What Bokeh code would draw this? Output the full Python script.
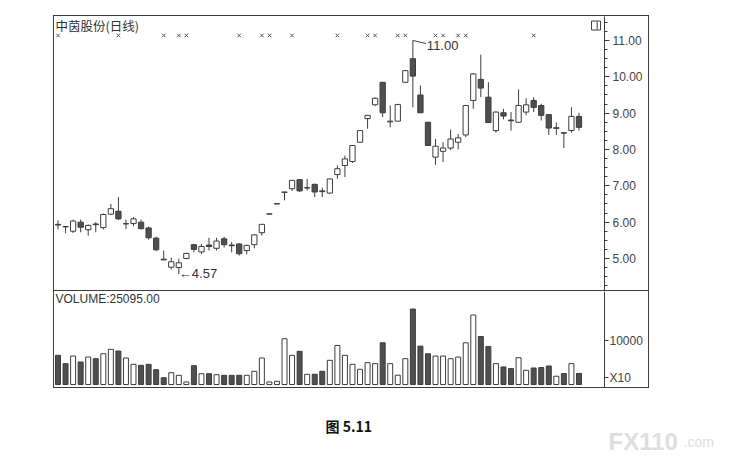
from bokeh.plotting import figure
from bokeh.models import (ColumnDataSource, Range1d, FixedTicker, NumeralTickFormatter,
                          Label, Spacer)
from bokeh.layouts import column, row
from bokeh.embed import file_html
from bokeh.resources import INLINE
from bokeh.core.properties import value

# ---------------- data ----------------
stock_title = "中茵股份(日线)"
opens  = [5.94, 5.88, 5.75, 6.00, 5.79, 5.95, 5.85, 6.22, 6.30, 5.95,
          5.96, 6.00, 5.84, 5.56, 4.98, 4.76, 4.75, 5.00, 5.38, 5.18,
          5.37, 5.28, 5.54, 5.37, 5.40, 5.22, 5.38, 5.71, 6.22, 6.50,
          6.82, 6.92, 7.17, 6.94, 7.04, 6.86, 6.80, 7.31, 7.56, 7.67,
          8.20, 8.85, 9.23, 9.85, 8.76, 8.78, 9.85, 10.50, 9.50, 8.75,
          7.79, 7.95, 8.04, 8.20, 8.40, 9.35, 9.93, 9.44, 8.52, 9.01,
          8.81, 8.75, 9.03, 9.35, 9.21, 8.96, 8.58, 8.46, 8.52, 8.91]
highs  = [6.05, 5.89, 6.07, 6.07, 5.94, 6.00, 6.24, 6.50, 6.69, 6.07,
          6.14, 6.07, 5.88, 5.60, 5.22, 5.02, 4.99, 5.16, 5.40, 5.40,
          5.57, 5.57, 5.60, 5.45, 5.42, 5.38, 5.67, 5.95, 6.23, 6.51,
          6.83, 7.16, 7.18, 7.19, 7.06, 6.95, 7.20, 7.56, 7.83, 8.12,
          8.53, 8.95, 9.43, 9.86, 9.21, 9.25, 10.18, 11.00, 9.76, 8.76,
          8.29, 8.20, 8.55, 8.43, 9.22, 10.10, 10.61, 9.85, 9.05, 9.12,
          9.03, 9.65, 9.41, 9.44, 9.26, 8.98, 8.74, 8.46, 9.16, 9.01]
lows   = [5.80, 5.70, 5.70, 5.72, 5.63, 5.72, 5.80, 6.20, 6.06, 5.81,
          5.89, 5.80, 5.52, 5.20, 4.96, 4.70, 4.57, 4.98, 5.17, 5.12,
          5.22, 5.22, 5.30, 5.17, 5.08, 5.11, 5.28, 5.63, 6.22, 6.50,
          6.60, 6.86, 6.83, 6.87, 6.69, 6.69, 6.78, 7.19, 7.24, 7.63,
          8.18, 8.57, 9.20, 8.89, 8.61, 8.77, 9.84, 9.16, 9.00, 8.10,
          7.58, 7.65, 7.98, 8.00, 8.34, 9.12, 9.44, 8.73, 8.46, 8.83,
          8.52, 8.74, 8.94, 9.03, 8.80, 8.40, 8.40, 8.04, 8.46, 8.52]
closes = [5.92, 5.87, 6.03, 5.86, 5.91, 5.93, 6.21, 6.37, 6.09, 5.96,
          6.09, 5.82, 5.57, 5.24, 4.96, 4.91, 4.88, 5.14, 5.25, 5.33,
          5.33, 5.48, 5.38, 5.35, 5.13, 5.36, 5.65, 5.94, 6.23, 6.51,
          6.83, 7.15, 6.86, 6.95, 6.83, 6.84, 7.19, 7.47, 7.74, 8.11,
          8.52, 8.94, 9.41, 9.01, 8.78, 9.24, 10.17, 10.02, 9.01, 8.11,
          8.09, 8.04, 8.29, 8.32, 9.21, 10.08, 9.69, 8.74, 9.03, 8.92,
          8.79, 9.21, 9.23, 9.16, 8.94, 8.59, 8.60, 8.45, 8.91, 8.61]
volumes = [66300, 47200, 64700, 51100, 62400, 58600, 69900, 79900, 76000, 60200,
           45900, 43600, 45900, 33600, 15400, 26800, 20900, 5700, 42700, 24500,
           24500, 22200, 20900, 20900, 20900, 20900, 30000, 60200, 5700, 7300,
           104000, 66300, 75400, 23200, 23200, 30000, 55000, 88700, 66200, 45900,
           34600, 49600, 47400, 94800, 47400, 21100, 58700, 171500, 87200, 69900,
           64700, 64700, 58700, 62400, 94800, 157900, 109000, 86500, 47400, 39900,
           36100, 60900, 32300, 37600, 38400, 42100, 18800, 24800, 47400, 25095]
marker_days = [0, 8, 14, 16, 17, 24, 27, 28, 31, 37, 41, 42, 45, 46, 50, 51, 53, 54, 63]
price_ticks = [5, 6, 7, 8, 9, 10, 11]
volume_ticks = [10000]
volume_factor = 10
caption_text = "图 5.11"
watermark_main = "FX110"
watermark_tail = ".com"

# ---------------- geometry / styles ----------------
FRAME_W = 550          # plotting frame width
AXIS_W = 46            # right axis strip (last 2px sit under the CSS border)
PRICE_H = 276          # canvas height of the price panel
VOL_H = 97             # canvas height of the volume panel
INK = "#3d3d3d"
DARK = "#4f4f4f"
FONT = "Liberation Sans"

n = len(opens)
days = list(range(n))
up = [c >= o for o, c in zip(opens, closes)]
src = ColumnDataSource(dict(
    x=days, o=opens, h=highs, l=lows, c=closes,
    top=[max(o, c) for o, c in zip(opens, closes)],
    bot=[min(o, c) for o, c in zip(opens, closes)],
    fill=["white" if u else DARK for u in up],
    vol=[v / volume_factor for v in volumes],
))

x_start, x_end = -0.464, 72.38
xr = Range1d(x_start, x_end)

price_ppu = 36.33
y_hi = 11 + 24 / price_ppu
y_lo = y_hi - PRICE_H / price_ppu

p = figure(width=FRAME_W + AXIS_W, height=PRICE_H, x_range=xr,
           y_range=Range1d(y_lo, y_hi),
           y_axis_location="right", x_axis_location=None, toolbar_location=None,
           output_backend="svg", min_border_left=0, min_border_right=AXIS_W,
           min_border_top=0, min_border_bottom=0)
p.styles = {"border": "1px solid " + INK}
p.grid.visible = False
p.outline_line_color = None
p.background_fill_color = "white"
p.border_fill_color = "white"


def style_axis(a):
    a.axis_line_color = INK
    a.major_tick_line_color = INK
    a.minor_tick_line_color = INK
    a.major_tick_in = 0
    a.minor_tick_in = 0
    a.major_label_text_font = FONT
    a.major_label_text_font_size = "12px"
    a.major_label_text_color = "#444444"


ax = p.yaxis[0]
ax.ticker = FixedTicker(ticks=price_ticks, minor_ticks=[4.25 + 0.25 * k for k in range(30)])
ax.formatter = NumeralTickFormatter(format="0.00")
style_axis(ax)
ax.major_tick_out = 5
ax.minor_tick_out = 3
ax.major_label_standoff = 3

# candles
p.segment(x0="x", y0="h", x1="x", y1="l", source=src, line_color=INK, line_width=1)
p.vbar(x="x", top="top", bottom="bot", width=0.7, source=src, fill_color="fill",
       line_color=INK, line_width=1)

# event markers row
marker_y = y_hi - 19 / price_ppu
p.scatter(x=marker_days, y=[marker_y] * len(marker_days), marker="x", size=5,
          line_color="#555555", line_width=1)

# high / low annotations
i_hi = max(days, key=lambda i: highs[i])
i_lo = min(days, key=lambda i: lows[i])
p.segment(x0=[i_hi], y0=[highs[i_hi]], x1=[i_hi + 1.75], y1=[highs[i_hi] - 3 / price_ppu],
          line_color=INK, line_width=1)
p.text(x=[i_hi], y=[highs[i_hi]], text=["%.2f" % highs[i_hi]], x_offset=14, y_offset=5,
       text_font=value(FONT), text_font_size="13px", text_color="#333333",
       text_baseline="middle", text_align="left")
p.text(x=[i_lo], y=[lows[i_lo]], text=["←%.2f" % lows[i_lo]], x_offset=0, y_offset=-1,
       text_font=value(FONT), text_font_size="13px", text_color="#333333",
       text_baseline="middle", text_align="left")

# title
p.add_layout(Label(x=x_start, y=y_hi, text=stock_title, x_offset=1, y_offset=1,
                   text_baseline="top", text_font="Noto Sans CJK SC",
                   text_font_size="12.5px", text_color="#333333"))
# icon box
icon_x = 71.26
p.rect(x=[icon_x], y=[y_hi - 9 / price_ppu], width=9, height=9, width_units="screen",
       height_units="screen", fill_color="white", line_color=INK)
p.segment(x0=[icon_x + 0.15], y0=[y_hi - 5 / price_ppu], x1=[icon_x + 0.15],
          y1=[y_hi - 13 / price_ppu], line_color=INK)

# ---------------- volume ----------------
v_ppu = 44 / 10000
v_lo = -4 / v_ppu
v_hi = v_lo + VOL_H / v_ppu
x10_level = 7 / v_ppu
pv = figure(width=FRAME_W + AXIS_W, height=VOL_H, x_range=xr,
            y_range=Range1d(v_lo, v_hi),
            y_axis_location="right", x_axis_location=None, toolbar_location=None,
            output_backend="svg", min_border_left=0, min_border_right=AXIS_W,
            min_border_top=0, min_border_bottom=0)
pv.styles = {"border-left": "1px solid " + INK, "border-right": "1px solid " + INK,
             "border-bottom": "1px solid " + INK}
pv.grid.visible = False
pv.outline_line_color = None
vax = pv.yaxis[0]
vax.ticker = FixedTicker(ticks=[x10_level] + volume_ticks, minor_ticks=[])
vax.formatter = NumeralTickFormatter(format="0")
vax.major_label_overrides = {x10_level: "X%d" % volume_factor}
style_axis(vax)
vax.major_tick_out = 4
vax.major_label_standoff = 1

pv.vbar(x="x", top="vol", bottom=0, width=0.66, source=src, fill_color="fill",
        line_color=INK, line_width=1)
pv.add_layout(Label(x=x_start, y=v_hi, text="VOLUME:%.2f" % volumes[-1], x_offset=1,
                    text_baseline="top", text_font=FONT, text_font_size="12px",
                    text_color="#333333"))

# ---------------- caption ----------------
CAP_W, CAP_H = 723, 64
cap = figure(width=CAP_W, height=CAP_H, x_range=Range1d(0, CAP_W), y_range=Range1d(CAP_H, 0),
             x_axis_location=None, y_axis_location=None, toolbar_location=None,
             output_backend="svg", min_border=0)
cap.grid.visible = False
cap.outline_line_color = None
cap.text(x=[325], y=[37], text=[caption_text], text_font=value("Noto Sans CJK SC"),
         text_font_style="bold", text_font_size="14px", text_color="#111111",
         text_baseline="middle", text_align="left")
cap.text(x=[608], y=[53], text=[watermark_main], text_font=value(FONT), text_font_style="bold",
         text_font_size="24px", text_color="#dedede", text_baseline="alphabetic", text_align="left")
cap.text(x=[683], y=[53], text=[watermark_tail], text_font=value(FONT),
         text_font_size="14px", text_color="#dedede", text_baseline="alphabetic", text_align="left")

charts = column(p, pv, spacing=0)
layout = column(Spacer(width=10, height=15),
                row(Spacer(width=53, height=10), charts, spacing=0),
                cap, spacing=0)
open("out.html", "w").write(file_html(layout, INLINE))
